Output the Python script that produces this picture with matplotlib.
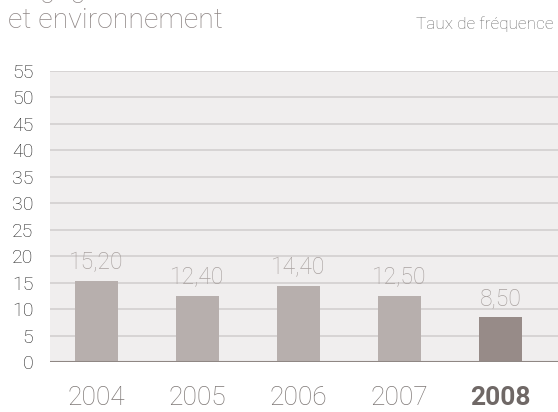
import matplotlib.pyplot as plt

years = ['2004', '2005', '2006', '2007', '2008']
values = [15.20, 12.40, 14.40, 12.50, 8.50]
labels = ['15,20', '12,40', '14,40', '12,50', '8,50']
yticks = list(range(0, 60, 5))

plt.rcParams['font.family'] = ['Roboto', 'DejaVu Sans']

fig = plt.figure(figsize=(5.58, 4.12), dpi=100)
ax = fig.add_axes([50 / 558, 50 / 412, 508 / 558, 291.3 / 412])
ax.set_facecolor('#f0eeee')

x = list(range(len(years)))
colors = ['#b7afad'] * 4 + ['#978b88']
ax.bar(x, values, width=0.426, color=colors, zorder=3)

# value labels above the bars
for xi, v, lab in zip(x, values, labels):
    ax.annotate(lab, (xi, v), xytext=(0, 8.6), textcoords='offset points',
                ha='center', va='baseline', fontsize=16.5, color='#a9a2a0',
                fontweight='light')

ax.set_xlim(-0.458, 4.571)
ax.set_ylim(0, 55)
ax.set_yticks(yticks)
ax.yaxis.grid(True, color='#d3cfcf', linewidth=1.2, zorder=0)
ax.axhline(0, color='#8f8784', linewidth=1.5, zorder=4)
for s in ax.spines.values():
    s.set_visible(False)
ax.tick_params(axis='both', length=0)
ax.tick_params(axis='y', labelsize=14, labelcolor='#222222', pad=12)
ax.set_yticklabels([str(t) for t in yticks], fontweight='light')
ax.set_xticks(x)
ax.set_xticklabels(years, fontsize=19, color='#7d7775', fontweight='light')
ax.get_xticklabels()[-1].set_fontweight('bold')
ax.get_xticklabels()[-1].set_color('#6f6866')
ax.tick_params(axis='x', pad=17)

# heading (first line cut off at the top edge)
fig.text(8 / 558, 1 - 28 / 412, 'et environnement', fontsize=20.5,
         color='#8d8584', fontweight='light', va='baseline')
fig.text(8 / 558, 1 + 3 / 412, 'Engagement sociétal', fontsize=20.5,
         color='#8d8584', fontweight='light', va='baseline')
fig.text(553 / 558, 1 - 29 / 412, 'Taux de fréquence', fontsize=12.4,
         color='#6e6e6e', ha='right', va='baseline', fontweight='light')

fig.savefig('out.png', dpi=100)
